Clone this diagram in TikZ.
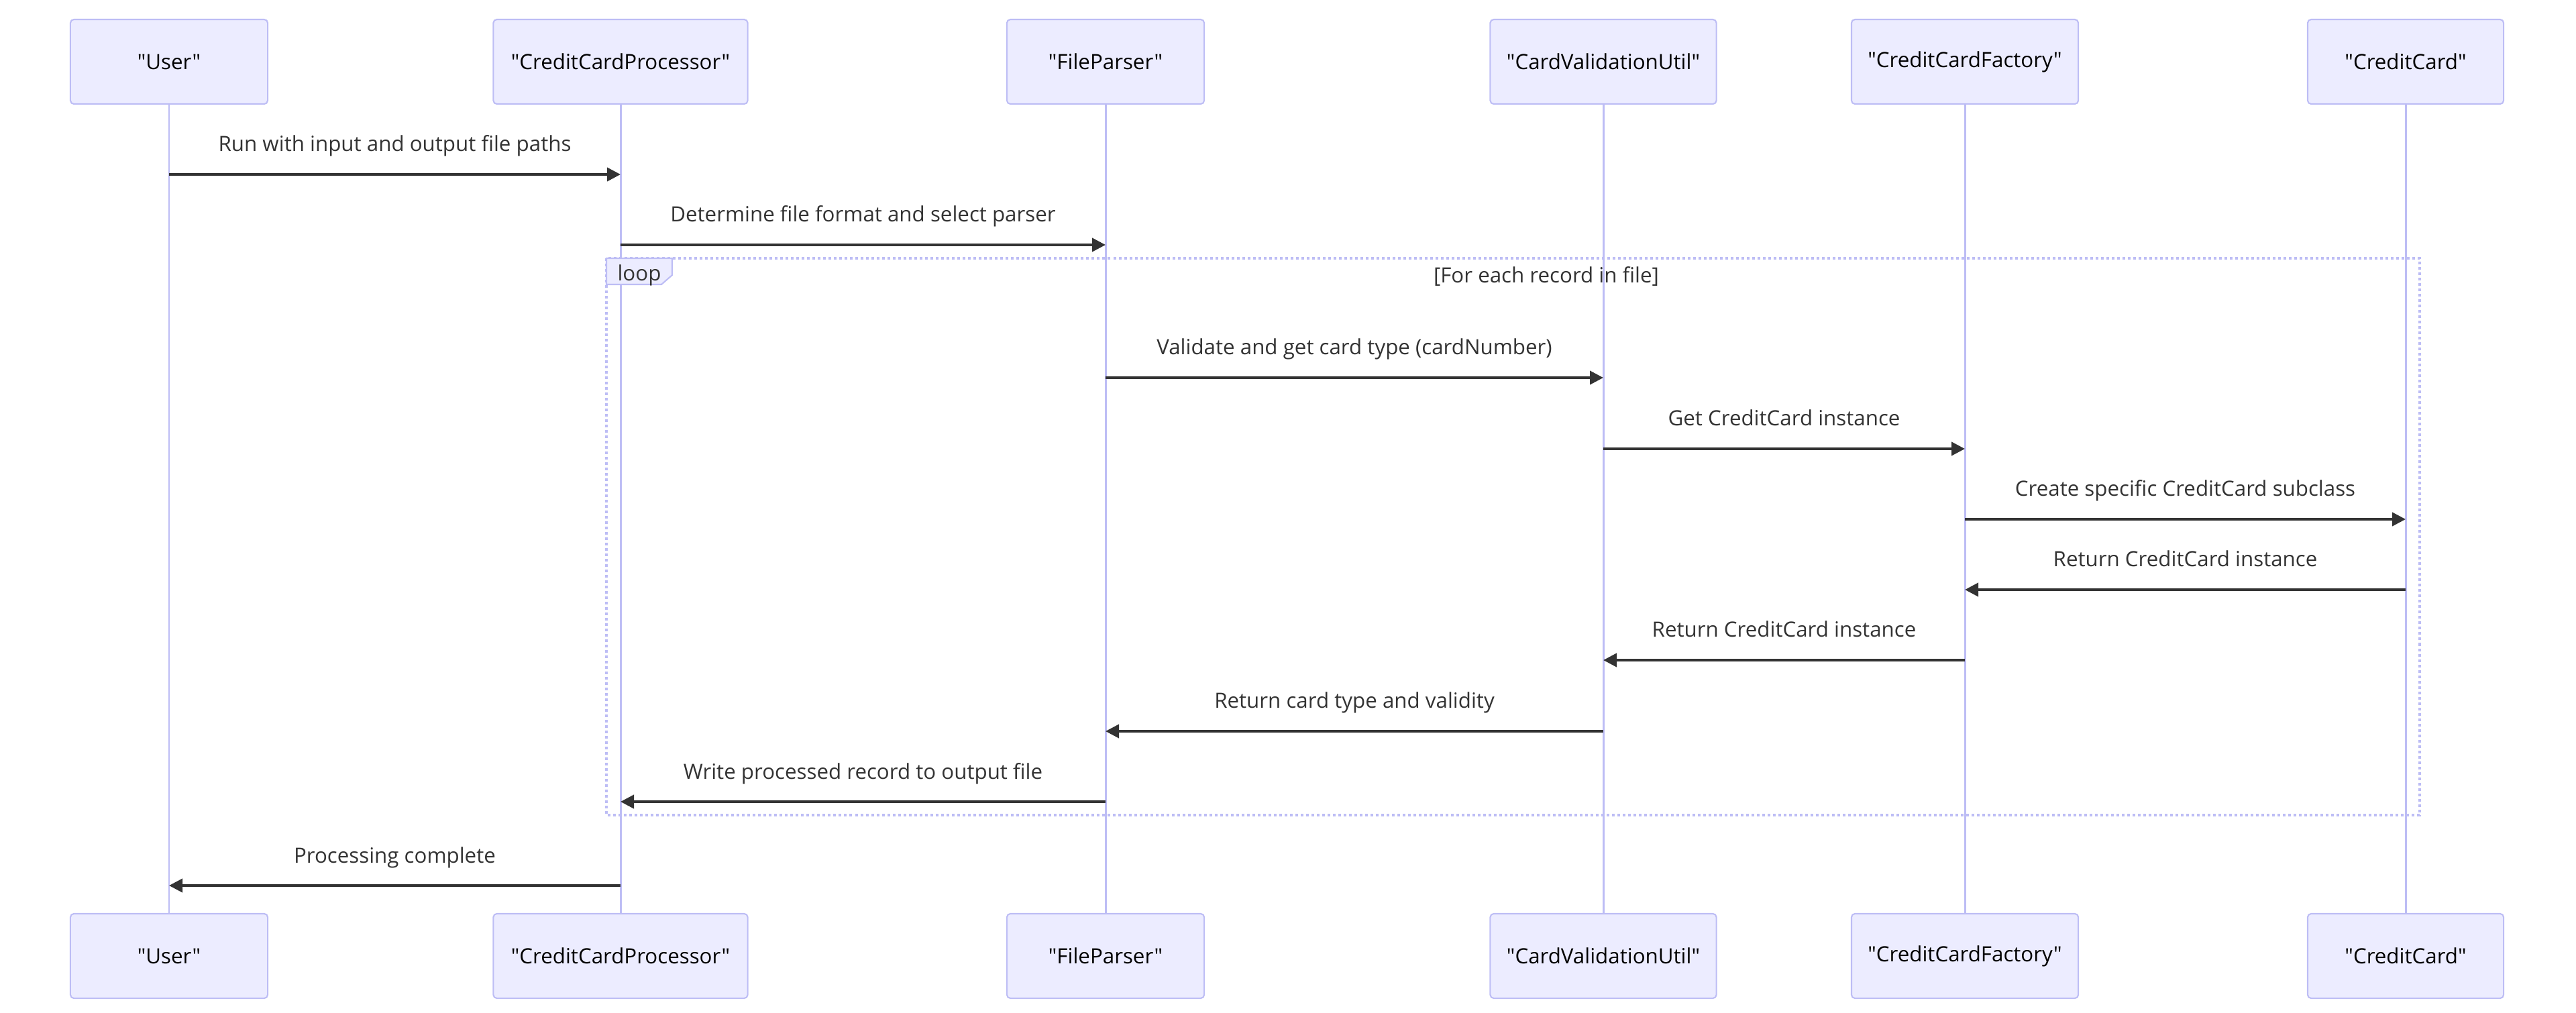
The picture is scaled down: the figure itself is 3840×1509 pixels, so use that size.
\documentclass[tikz,border=0pt]{standalone}
\usepackage{fontspec}
\setmainfont[Ligatures=TeXOff]{Open Sans}
\usetikzlibrary{arrows.meta}

\definecolor{actorfill}{HTML}{ECECFF}
\definecolor{actorline}{HTML}{BDBDF5}
\definecolor{msgtext}{HTML}{333333}

\tikzset{
  actor/.style={draw=actorline,fill=actorfill,line width=0.6pt,rounded corners=1.5pt,
    minimum height=1.26cm,inner sep=0pt,text=black,font=\fontsize{8.9}{10}\selectfont},
  lifeline/.style={actorline,line width=0.85pt},
  msg/.style={draw=msgtext,line width=1.1pt,-{Triangle[length=0.2cm,width=0.2cm]}},
  msglabel/.style={anchor=base,yshift=0.34cm,text=msgtext,font=\fontsize{8.9}{10}\selectfont},
  loopframe/.style={actorline,line width=0.9pt,dash pattern=on 0.04cm off 0.04cm},
}

\begin{document}
\begin{tikzpicture}[x=0.01cm,y=-0.01cm]
  \useasboundingbox (0,0) rectangle (3840,1509);

  \foreach \id/\cx/\w/\txt in {user/252/2.94/User,ccp/925/3.79/CreditCardProcessor,
      fp/1648/2.94/FileParser,cvu/2390/3.37/CardValidationUtil,
      ccf/2929/3.38/CreditCardFactory,cc/3586/2.92/CreditCard}{
    \node[actor,minimum width=\w cm] (top-\id) at (\cx,92) {"\txt"};
    \node[actor,minimum width=\w cm] (bot-\id) at (\cx,1425) {"\txt"};
    \draw[lifeline] (top-\id) -- (bot-\id);
  }

  \draw[loopframe] (904,385) rectangle (3607,1215);
  \fill[actorfill,draw=actorline,line width=0.6pt]
    (904,385) -- (1002,385) -- (1002,410) -- (986,424) -- (904,424) -- cycle;
  \node[text=msgtext,font=\fontsize{8.9}{10}\selectfont] (loop-tag) at (953,410) {loop};
  \node[text=msgtext,font=\fontsize{8.9}{10}\selectfont] (loop-cond) at (2305,412) {[For each record in file]};

  \foreach \from/\to/\y/\txt in {user/ccp/260/Run with input and output file paths,
      ccp/fp/365/Determine file format and select parser,
      fp/cvu/563/Validate and get card type (cardNumber),
      cvu/ccf/669/Get CreditCard instance,
      ccf/cc/774/Create specific CreditCard subclass,
      cc/ccf/879/Return CreditCard instance,
      ccf/cvu/984/Return CreditCard instance,
      cvu/fp/1090/Return card type and validity,
      fp/ccp/1195/Write processed record to output file,
      ccp/user/1320/Processing complete}{
    \draw[msg] (top-\from |- 0,\y) -- (top-\to |- 0,\y)
      node[midway,msglabel] (lbl-\from-\to-\y) {\txt};
  }
\end{tikzpicture}
\end{document}
